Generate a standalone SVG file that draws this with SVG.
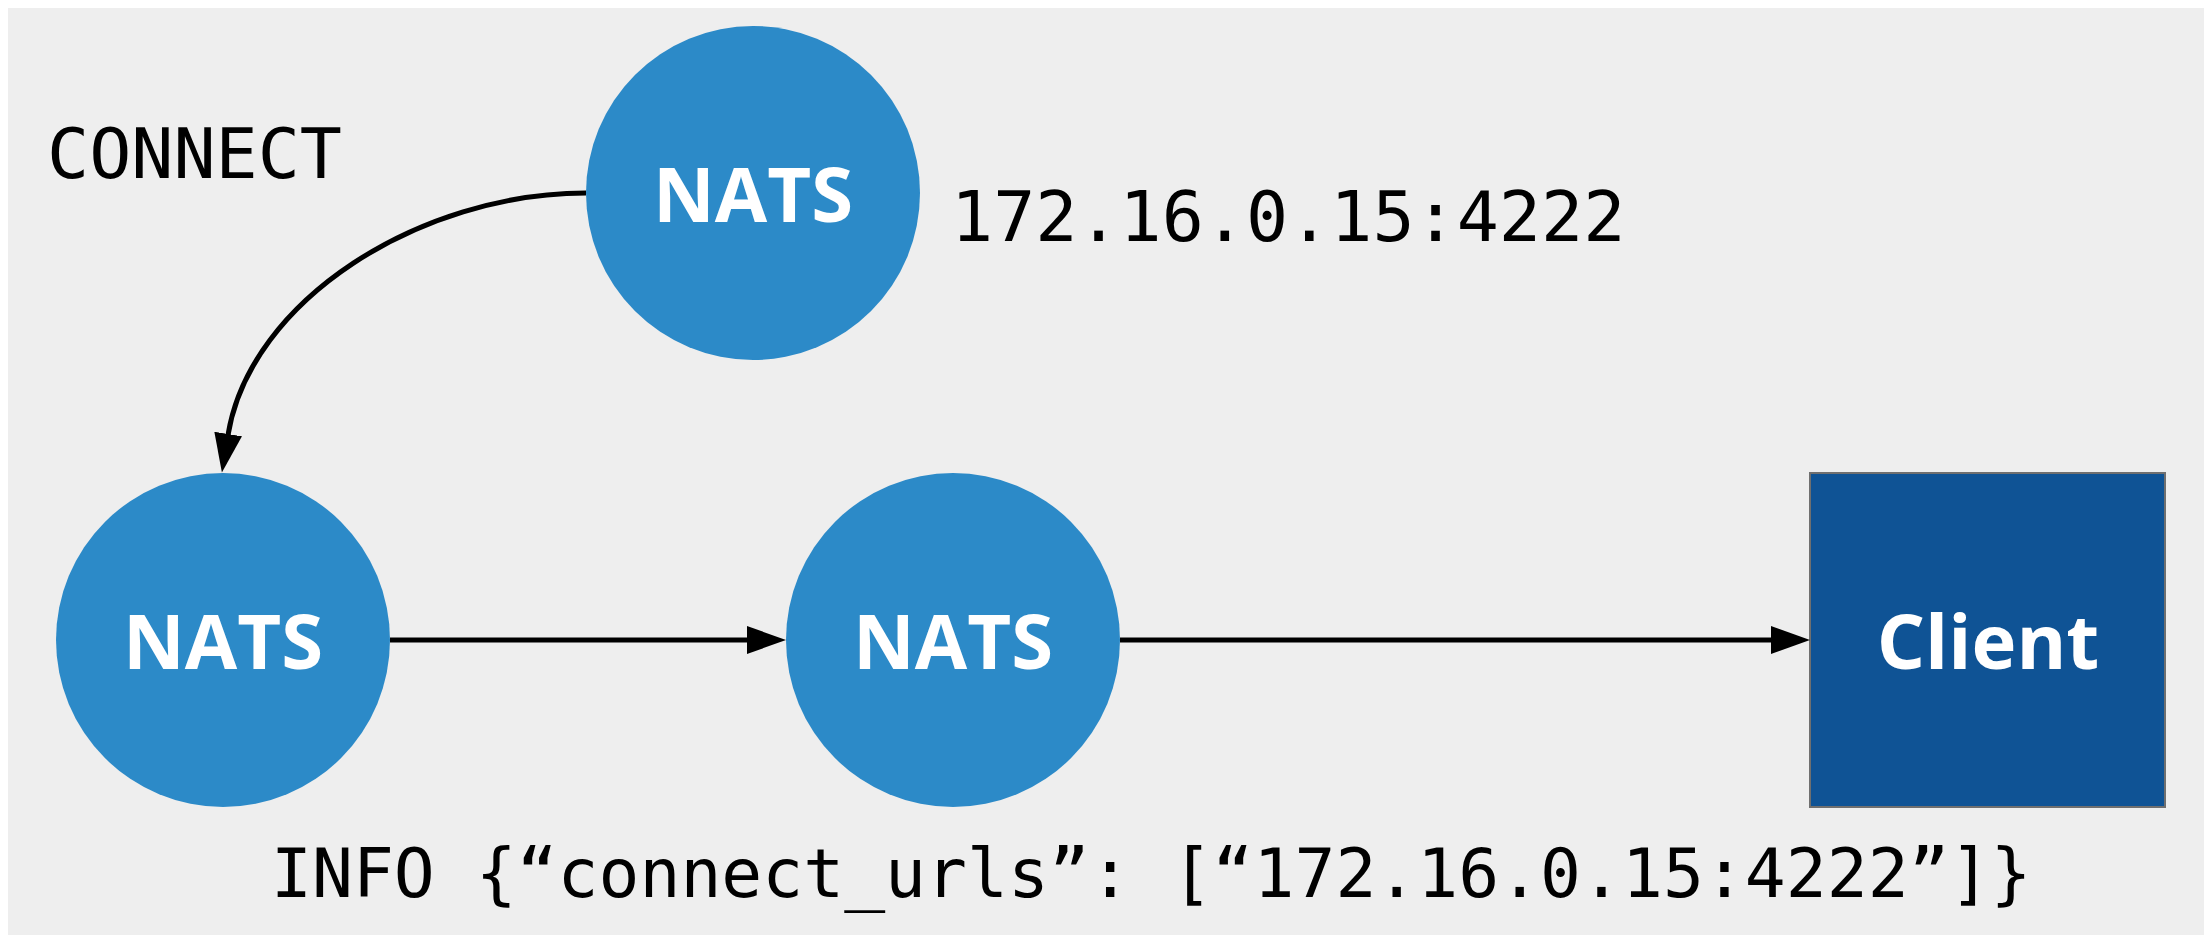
<svg xmlns="http://www.w3.org/2000/svg" width="2204" height="935" viewBox="0 0 2204 935">
  <style>
    .bg { fill: #ffffff; }
    .panel { fill: #eeeeee; }
    .nats { fill: #2c8ac8; }
    .client { fill: #0f5395; stroke: #6f6f6f; stroke-width: 2; }
    .lbl { font-family: "Open Sans", "Noto Sans", sans-serif; font-weight: bold; fill: #ffffff; font-size: 76px; text-anchor: middle; }
    .mono { font-family: "DejaVu Sans Mono", "Liberation Mono", monospace; fill: #000000; }
    .edge { fill: none; stroke: #000000; stroke-width: 5; }
  </style>
  <defs>
    <marker id="arrow" markerUnits="userSpaceOnUse" markerWidth="40" markerHeight="28" refX="1" refY="14" orient="auto">
      <path d="M0,0 L39,14 L0,28 Z" fill="#000000"/>
    </marker>
  </defs>
  <rect class="bg" x="0" y="0" width="2204" height="935"/>
  <rect class="panel" x="8" y="8" width="2196" height="927"/>

  <g id="node-nats-top">
    <circle class="nats" cx="753" cy="193" r="167"/>
    <text class="lbl" x="753" y="222">NATS</text>
  </g>
  <g id="node-nats-left">
    <circle class="nats" cx="223" cy="640" r="167"/>
    <text class="lbl" x="223" y="669">NATS</text>
  </g>
  <g id="node-nats-mid">
    <circle class="nats" cx="953" cy="640" r="167"/>
    <text class="lbl" x="953" y="669">NATS</text>
  </g>
  <g id="node-client">
    <rect class="client" x="1810" y="473" width="355" height="334"/>
    <text class="lbl" x="1988" y="669">Client</text>
  </g>

  <g id="connectors">
    <path class="edge" d="M586,193 C420,193 250,300 228,435" marker-end="url(#arrow)"/>
    <path class="edge" d="M390,640 L748,640" marker-end="url(#arrow)"/>
    <path class="edge" d="M1120,640 L1772,640" marker-end="url(#arrow)"/>
  </g>

  <g id="labels">
    <text class="mono" x="47" y="178" font-size="70">CONNECT</text>
    <text class="mono" x="951" y="241" font-size="70">172.16.0.15:4222</text>
    <text class="mono" x="271" y="897" font-size="68">INFO {“connect_urls”: [“172.16.0.15:4222”]}</text>
  </g>
</svg>
